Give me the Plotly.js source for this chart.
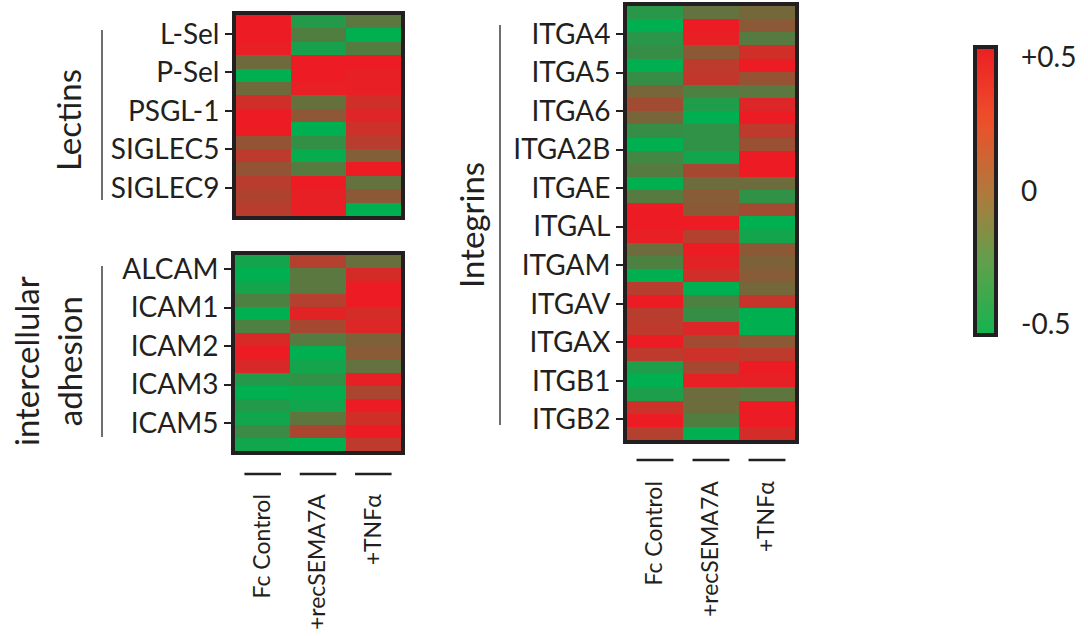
<!DOCTYPE html>
<html>
<head>
<meta charset="utf-8">
<script src="https://cdn.plot.ly/plotly-3.0.1.min.js"></script>
<style>html,body{margin:0;padding:0;background:#fff}#chart{width:1088px;height:636px}</style>
</head>
<body>
<div id="chart"></div>
<script>
// ---------- DATA ----------
const conditions = ['Fc Control', '+recSEMA7A', '+TNFα'];

const lectinGenes = ['L-Sel', 'P-Sel', 'PSGL-1', 'SIGLEC5', 'SIGLEC9'];
const lectinFc  = [0.5, 0.5, 0.48, -0.03, -0.5, -0.03, 0.38, 0.5, 0.5, 0.12, 0.3, 0.12, 0.28, 0.24, 0.28];
const lectinRec = [-0.35, -0.16, -0.4, 0.5, 0.5, 0.48, -0.07, 0.1, -0.5, -0.28, -0.48, -0.14, 0.5, 0.47, 0.48];
const lectinTnf = [-0.12, -0.5, -0.15, 0.5, 0.47, 0.48, 0.38, 0.44, 0.36, 0.28, 0.05, 0.5, -0.08, 0.09, -0.5];

const adhesionGenes = ['ALCAM', 'ICAM1', 'ICAM2', 'ICAM3', 'ICAM5'];
const adhesionFc  = [-0.42, -0.5, -0.42, -0.18, -0.5, -0.18, 0.41, 0.5, 0.41, -0.35, -0.5, -0.35, -0.43, -0.25, -0.43];
const adhesionRec = [0.26, -0.12, -0.12, 0.26, 0.45, 0.2, -0.14, -0.5, -0.42, -0.3, -0.48, -0.43, -0.1, 0.22, -0.5];
const adhesionTnf = [-0.06, 0.4, 0.5, 0.5, 0.39, 0.43, 0.03, 0.07, -0.08, 0.47, 0.22, 0.5, 0.38, 0.5, 0.3];

const integrinGenes = ['ITGA4', 'ITGA5', 'ITGA6', 'ITGA2B', 'ITGAE', 'ITGAL', 'ITGAM', 'ITGAV', 'ITGAX', 'ITGB1', 'ITGB2'];
const integrinFc  = [-0.33, -0.5, -0.33, -0.27, -0.5, -0.27, 0.01, 0.18, 0.01, -0.27, -0.5, -0.22, -0.14, -0.5, -0.14, 0.5, 0.5, 0.48, -0.04, -0.18, -0.5, 0.28, 0.5, 0.28, 0.3, 0.5, 0.3, -0.38, -0.5, -0.38, 0.36, 0.5, 0.26];
const integrinRec = [-0.08, 0.5, 0.48, 0.09, 0.3, 0.32, -0.18, -0.37, -0.5, -0.3, -0.3, -0.43, 0.2, -0.04, 0.07, 0.09, 0.5, 0.26, 0.5, 0.45, 0.38, -0.5, -0.18, -0.27, 0.43, 0.18, 0.36, 0.2, 0.47, -0.04, -0.04, -0.16, -0.5];
const integrinTnf = [-0.01, 0.09, -0.14, 0.38, 0.5, 0.13, -0.12, 0.43, 0.5, 0.3, 0.15, 0.5, 0.5, -0.04, -0.3, 0.18, -0.5, -0.42, 0.09, 0.03, 0.07, -0.01, 0.34, -0.5, -0.5, 0.09, 0.3, 0.5, 0.47, -0.1, 0.5, 0.5, 0.39];

const colorbarTicks = [-0.5, 0, 0.5];
const colorbarTickText = ['-0.5', '0', '+0.5'];

// ---------- STYLE ----------
const W = 1088, H = 636;
const INK = '#231f20';
const FONT = 'Lato, "Open Sans", sans-serif';
const CELL_SCALE = [[0, 'rgb(0,176,80)'], [0.5, 'rgb(118,102,58)'], [1, 'rgb(237,28,36)']];
const BAR_SCALE = [[0, 'rgb(20,180,80)'], [0.25, 'rgb(95,160,75)'], [0.5, 'rgb(178,120,60)'], [0.75, 'rgb(238,78,42)'], [1, 'rgb(237,30,36)']];

const px = v => v / W;
const py = v => 1 - v / H;

function zRows(a, b, c) { return a.map((v, i) => [v, b[i], c[i]]); }
function rowIdx(n) { return Array.from({length: n}, (_, i) => i); }

function heat(fc, rec, tnf, xa, ya) {
  return {
    type: 'heatmap', xaxis: xa, yaxis: ya,
    x: [0, 1, 2], y: rowIdx(fc.length),
    z: zRows(fc, rec, tnf),
    zmin: -0.5, zmax: 0.5, colorscale: CELL_SCALE, showscale: false,
    hoverinfo: 'skip'
  };
}

const traces = [
  heat(lectinFc, lectinRec, lectinTnf, 'x', 'y'),
  heat(adhesionFc, adhesionRec, adhesionTnf, 'x2', 'y2'),
  heat(integrinFc, integrinRec, integrinTnf, 'x3', 'y3'),
  {
    type: 'scatter', mode: 'markers', xaxis: 'x3', yaxis: 'y3',
    x: [1], y: [16], hoverinfo: 'skip',
    marker: {
      size: 1, opacity: 0, color: [0], cmin: -0.54, cmax: 0.54,
      colorscale: BAR_SCALE, showscale: true,
      colorbar: {
        thickness: 21, thicknessmode: 'pixels',
        len: 288 / H, lenmode: 'fraction',
        x: px(975), xanchor: 'left', y: py(191), yanchor: 'middle',
        xpad: 0, ypad: 0, outlinewidth: 4, outlinecolor: INK, borderwidth: 0,
        tickvals: colorbarTicks, ticktext: colorbarTickText,
        ticks: 'outside', ticklen: 18, tickcolor: 'rgba(0,0,0,0)',
        tickfont: {family: FONT, size: 28, color: INK}
      }
    }
  }
];

function yAxis(genes, n, dom, t0, step) {
  return {
    domain: dom, range: [n - 0.5, -0.5], autorange: false,
    tickvals: genes.map((g, i) => t0 + i * step), ticktext: genes,
    ticks: 'outside', ticklen: 7, tickwidth: 2, tickcolor: INK,
    showline: true, mirror: true, linewidth: 4, linecolor: INK,
    showgrid: false, zeroline: false, fixedrange: true,
    tickfont: {family: FONT, size: 28, color: INK}
  };
}
function xAxis(dom, anchor, labels, standoff) {
  return {
    domain: dom, anchor: anchor, range: [-0.5, 2.5], autorange: false,
    tickvals: [0, 1, 2], ticktext: conditions, showticklabels: labels,
    ticks: '', tickangle: -90, ticklabelstandoff: standoff,
    showline: true, mirror: true, linewidth: 4, linecolor: INK,
    showgrid: false, zeroline: false, fixedrange: true,
    tickfont: {family: FONT, size: 23, color: INK}
  };
}

const shapes = [];
function vline(x, y0, y1) {
  shapes.push({type: 'line', xref: 'paper', yref: 'paper', x0: px(x), x1: px(x), y0: py(y0), y1: py(y1), line: {color: INK, width: 1.3}});
}
vline(102, 30, 200);
vline(102, 266, 437);
vline(500, 25, 425);
conditions.forEach((c, i) => {
  shapes.push({type: 'line', xref: 'x2', yref: 'paper', x0: i - 0.33, x1: i + 0.33, y0: py(474), y1: py(474), line: {color: INK, width: 2.5}});
  shapes.push({type: 'line', xref: 'x3', yref: 'paper', x0: i - 0.33, x1: i + 0.33, y0: py(460), y1: py(460), line: {color: INK, width: 2.5}});
});

const annotations = [
  {text: 'Lectins', x: px(68), y: py(120)},
  {text: 'intercellular<br>adhesion', x: px(47), y: py(361)},
  {text: 'Integrins', x: px(471), y: py(225)}
].map(a => Object.assign({
  xref: 'paper', yref: 'paper', showarrow: false, textangle: -90,
  xanchor: 'center', yanchor: 'middle', align: 'center',
  font: {family: FONT, size: 33, color: INK}
}, a));

const layout = {
  width: W, height: H, margin: {l: 0, r: 0, t: 0, b: 0},
  paper_bgcolor: '#fff', plot_bgcolor: '#fff', showlegend: false,
  xaxis:  xAxis([px(236), px(401)], 'y', false, 0),
  yaxis:  yAxis(lectinGenes, lectinFc.length, [py(216), py(15)], 0.92, 2.87),
  xaxis2: xAxis([px(235), px(401)], 'y2', true, 30),
  yaxis2: yAxis(adhesionGenes, adhesionFc.length, [py(451), py(255)], 0.57, 2.95),
  xaxis3: xAxis([px(627), px(795)], 'y3', true, 28),
  yaxis3: yAxis(integrinGenes, integrinFc.length, [py(440), py(6)], 1.63, 2.93),
  shapes: shapes, annotations: annotations
};
layout.yaxis.anchor = 'x';
layout.yaxis2.anchor = 'x2';
layout.yaxis3.anchor = 'x3';

Plotly.newPlot('chart', traces, layout, {staticPlot: true, displayModeBar: false});
</script>
</body>
</html>
